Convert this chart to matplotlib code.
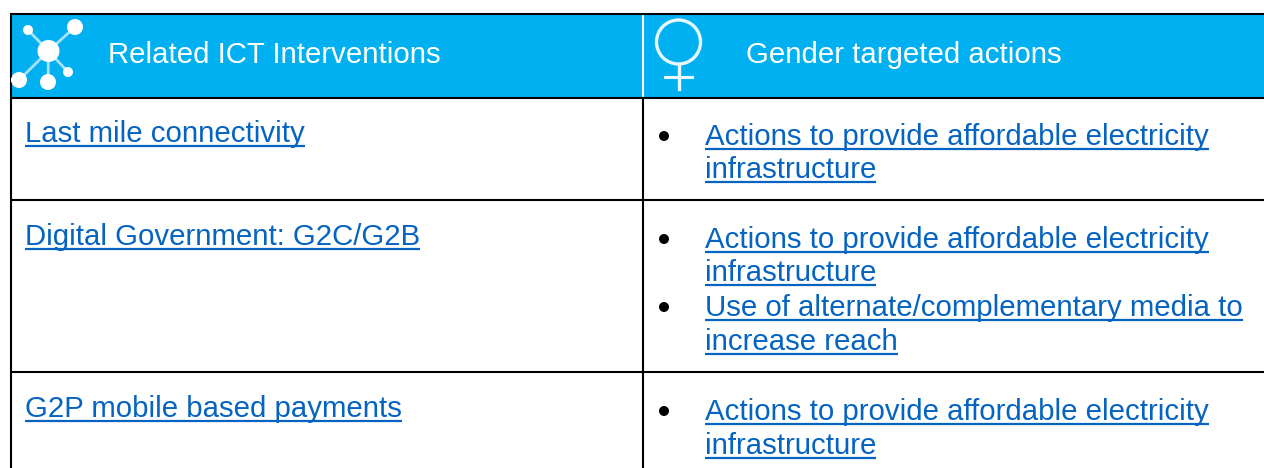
import matplotlib
matplotlib.use('Agg')
import matplotlib.pyplot as plt
from matplotlib.patches import Circle, Rectangle

plt.rcParams['font.family'] = ['Liberation Sans', 'DejaVu Sans']

# table contents
headers = ['Related ICT Interventions', 'Gender targeted actions']
interventions = ['Last mile connectivity', 'Digital Government: G2C/G2B', 'G2P mobile based payments']
actions = [
    ['Actions to provide affordable electricity', 'infrastructure'],
    ['Actions to provide affordable electricity', 'infrastructure',
     'Use of alternate/complementary media to', 'increase reach'],
    ['Actions to provide affordable electricity', 'infrastructure'],
]
# which wrapped lines start a new bullet
bullet_lines = [[0], [0, 2], [0]]

# layout in pixels
W, H = 1264, 468
left_x, mid_x = 11, 643
top_y, head_y = 14, 98
row_y = [200, 372]
left_base = [142, 245, 417]
right_base = [[145, 178], [248, 281, 316, 350], [420, 454]]
LINK = '#0563C1'
HEAD = '#00B0F0'
FS = 21.15


def link(ax, x, y, s):
    t = ax.text(x, y, s, color=LINK, fontsize=FS, va='baseline', ha='left')
    bb = t.get_window_extent(ax.figure.canvas.get_renderer())
    ax.plot([x, x + bb.width], [y + 4, y + 4], color=LINK, lw=1.6, solid_capstyle='butt')


fig = plt.figure(figsize=(W / 100, H / 100), dpi=100)
ax = fig.add_axes([0, 0, 1, 1])
ax.set_xlim(0, W)
ax.set_ylim(H, 0)
ax.axis('off')

# header band
ax.add_patch(Rectangle((left_x, top_y), W - left_x, head_y - top_y, color=HEAD, lw=0))
ax.plot([mid_x, mid_x], [top_y, head_y], color='white', lw=1.5)

ax.text(108, 63, headers[0], color='white', fontsize=FS, va='baseline')
ax.text(746, 63, headers[1], color='white', fontsize=FS, va='baseline')

# network icon
hub = (48.5, 51)
nodes = [(75, 27, 8), (28, 30, 5), (19, 80, 8), (48, 82, 8), (68, 72, 5)]
for nx, ny, r in nodes:
    ax.plot([hub[0], nx], [hub[1], ny], color='#a8e2f9', lw=2, zorder=2)
    ax.add_patch(Circle((nx, ny), r, color='white', lw=0, zorder=3))
ax.add_patch(Circle(hub, 11, color='white', lw=0, zorder=3))

# female icon
ax.add_patch(Circle((678.5, 42), 22, fill=False, ec='#e8f8fe', lw=2.4))
ax.plot([678.5, 678.5], [64, 89], color='#e8f8fe', lw=2.4)
ax.plot([665, 692], [77, 77], color='#e8f8fe', lw=2.2)

# table rules
for y in [top_y, head_y] + row_y:
    ax.plot([left_x, W], [y, y], color='black', lw=1.5, solid_capstyle='butt')
ax.plot([left_x, left_x], [top_y, H], color='black', lw=1.5)
ax.plot([mid_x, mid_x], [head_y, H], color='black', lw=1.5)

# rows
for i, name in enumerate(interventions):
    link(ax, 25, left_base[i], name)
    for j, line in enumerate(actions[i]):
        link(ax, 705, right_base[i][j], line)
        if j in bullet_lines[i]:
            ax.add_patch(Circle((664, right_base[i][j] - 9), 5, color='black', lw=0))

fig.savefig('out.png', dpi=100)
